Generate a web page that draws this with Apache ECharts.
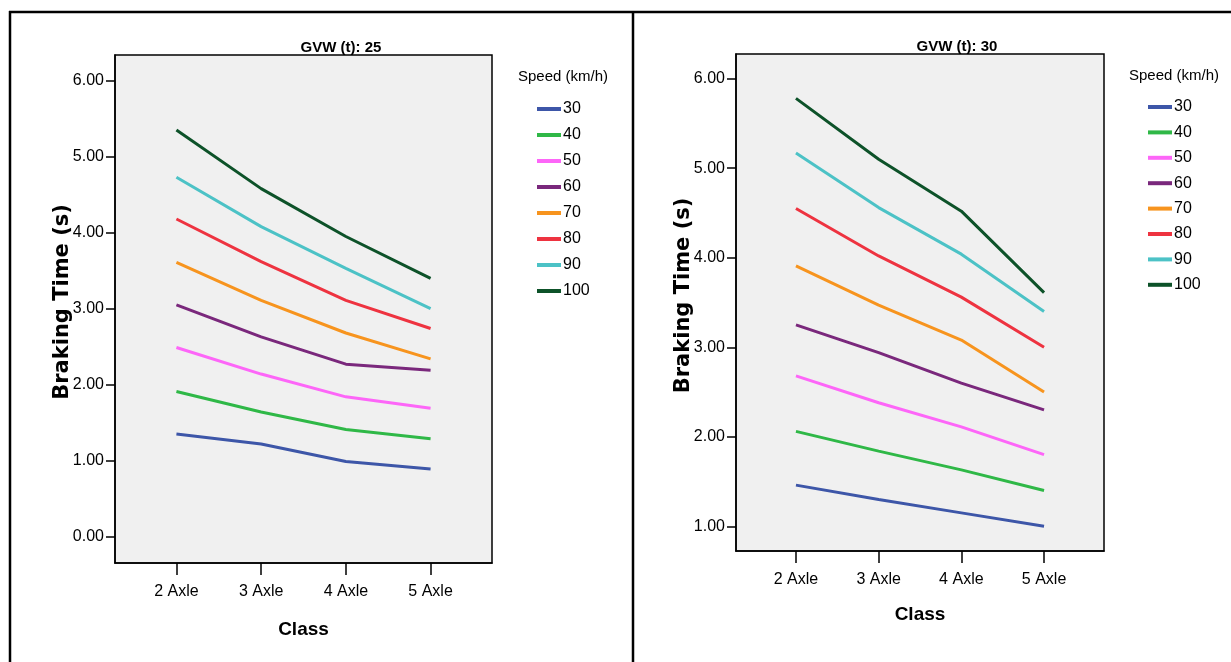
<!DOCTYPE html>
<html>
<head>
<meta charset="utf-8">
<script src="https://cdn.jsdelivr.net/npm/echarts@6/dist/echarts.min.js"></script>
<style>
  html, body { margin: 0; padding: 0; background: #fff; }
  #chart { width: 1231px; height: 662px; }
</style>
</head>
<body>
<div id="chart"></div>
<script>
// categories and legend entries
const classes = ['2 Axle', '3 Axle', '4 Axle', '5 Axle'];
const speeds = ['30', '40', '50', '60', '70', '80', '90', '100'];
const speedColors = ['#3d56a8', '#2fb847', '#fd66f8', '#7a287c', '#f7941e', '#ee3340', '#4cc2c6', '#0d5229'];

// braking time (s), one row per speed, GVW 25 t
const gvw25Times = [
  [1.35, 1.22, 0.99, 0.89],
  [1.91, 1.64, 1.41, 1.29],
  [2.49, 2.14, 1.84, 1.69],
  [3.05, 2.63, 2.27, 2.19],
  [3.61, 3.11, 2.68, 2.34],
  [4.18, 3.62, 3.11, 2.74],
  [4.73, 4.08, 3.53, 3.00],
  [5.35, 4.58, 3.95, 3.40]
];
// braking time (s), one row per speed, GVW 30 t
const gvw30Times = [
  [1.46, 1.30, 1.15, 1.00],
  [2.06, 1.84, 1.63, 1.40],
  [2.68, 2.38, 2.11, 1.80],
  [3.25, 2.94, 2.60, 2.30],
  [3.91, 3.47, 3.08, 2.50],
  [4.55, 4.02, 3.56, 3.00],
  [5.17, 4.56, 4.04, 3.40],
  [5.78, 5.10, 4.52, 3.61]
];
const yTicks25 = [0, 1, 2, 3, 4, 5, 6];
const yTicks30 = [1, 2, 3, 4, 5, 6];

const sans = "'Liberation Sans Narrow', 'Arial Narrow', 'Liberation Sans', sans-serif";
const classIdx = classes.map((c, i) => i);

function xAxisFor(gridIndex, gap) {
  return {
    type: 'value', gridIndex: gridIndex,
    min: -0.725, max: 3.725,
    name: 'Class', nameLocation: 'middle', nameGap: gap, nameMoveOverlap: false,
    nameTextStyle: { fontFamily: 'Liberation Sans', fontWeight: 'bold', fontSize: 19, color: '#000' },
    axisLine: { show: true, onZero: false, lineStyle: { color: '#000', width: 1.5 } },
    axisTick: { show: true, length: 12, customValues: classIdx, lineStyle: { color: '#000', width: 1.5 } },
    axisLabel: {
      customValues: classIdx, margin: 21,
      fontFamily: sans, fontSize: 16, color: '#000',
      formatter: v => classes[Math.round(v)]
    },
    splitLine: { show: false }
  };
}

function yAxisFor(gridIndex, min, max, ticks) {
  return {
    type: 'value', gridIndex: gridIndex,
    min: min, max: max,
    name: 'Braking Time (s)', nameLocation: 'middle', nameGap: 42, nameMoveOverlap: false,
    nameTextStyle: { fontFamily: 'DejaVu Sans', fontWeight: 'bold', fontSize: 21, color: '#000', padding: [0, 0, 0, 14] },
    axisLine: { show: true, onZero: false, lineStyle: { color: '#000', width: 1.5 } },
    axisTick: { show: true, length: 9, customValues: ticks, lineStyle: { color: '#000', width: 1.5 } },
    axisLabel: {
      customValues: ticks, margin: 11,
      fontFamily: sans, fontSize: 16, color: '#000',
      formatter: v => v.toFixed(2)
    },
    splitLine: { show: false }
  };
}

function seriesFor(times, axisIndex) {
  return speeds.map((s, k) => ({
    name: s,
    type: 'line',
    xAxisIndex: axisIndex, yAxisIndex: axisIndex,
    data: times[k].map((v, i) => [i, v]),
    showSymbol: false,
    symbol: 'none',
    color: speedColors[k],
    lineStyle: { width: 3, color: speedColors[k] },
    animation: false
  }));
}

function legendFor(left, top, gap) {
  return {
    data: speeds, orient: 'vertical', left: left, top: top, padding: 0,
    icon: 'rect', itemWidth: 24, itemHeight: 4, itemGap: gap,
    textStyle: { fontFamily: sans, fontSize: 16, color: '#000', padding: [0, 0, 0, -3] },
    selectedMode: false
  };
}

const chart = echarts.init(document.getElementById('chart'), null, { renderer: 'canvas' });
chart.setOption({
  backgroundColor: '#fff',
  animation: false,
  title: [
    { text: 'GVW (t): 25', left: 336, top: 35, textAlign: 'center',
      textStyle: { fontFamily: sans, fontWeight: 'bold', fontSize: 15, color: '#000' } },
    { text: 'GVW (t): 30', left: 952, top: 34, textAlign: 'center',
      textStyle: { fontFamily: sans, fontWeight: 'bold', fontSize: 15, color: '#000' } },
    { text: 'Speed (km/h)', left: 513, top: 64,
      textStyle: { fontFamily: sans, fontWeight: 'normal', fontSize: 15, color: '#000' } },
    { text: 'Speed (km/h)', left: 1124, top: 63,
      textStyle: { fontFamily: sans, fontWeight: 'normal', fontSize: 15, color: '#000' } }
  ],
  legend: [legendFor(537, 101, 10), legendFor(1148, 99, 9.4)],
  grid: [
    { left: 115, top: 55, width: 377, height: 508, show: true,
      backgroundColor: '#f0f0f0', borderColor: '#000', borderWidth: 1.5 },
    { left: 736, top: 54, width: 368, height: 497, show: true,
      backgroundColor: '#f0f0f0', borderColor: '#000', borderWidth: 1.5 }
  ],
  xAxis: [xAxisFor(0, 57), xAxisFor(1, 54)],
  yAxis: [yAxisFor(0, -0.346, 6.338, yTicks25), yAxisFor(1, 0.724, 6.276, yTicks30)],
  series: seriesFor(gvw25Times, 0).concat(seriesFor(gvw30Times, 1)),
  graphic: [
    { type: 'line', shape: { x1: 9, y1: 12, x2: 1231, y2: 12 }, style: { stroke: '#000', lineWidth: 2.5 } },
    { type: 'line', shape: { x1: 10, y1: 11, x2: 10, y2: 662 }, style: { stroke: '#000', lineWidth: 2.5 } },
    { type: 'line', shape: { x1: 633, y1: 11, x2: 633, y2: 662 }, style: { stroke: '#000', lineWidth: 2.5 } }
  ]
});
</script>
</body>
</html>
